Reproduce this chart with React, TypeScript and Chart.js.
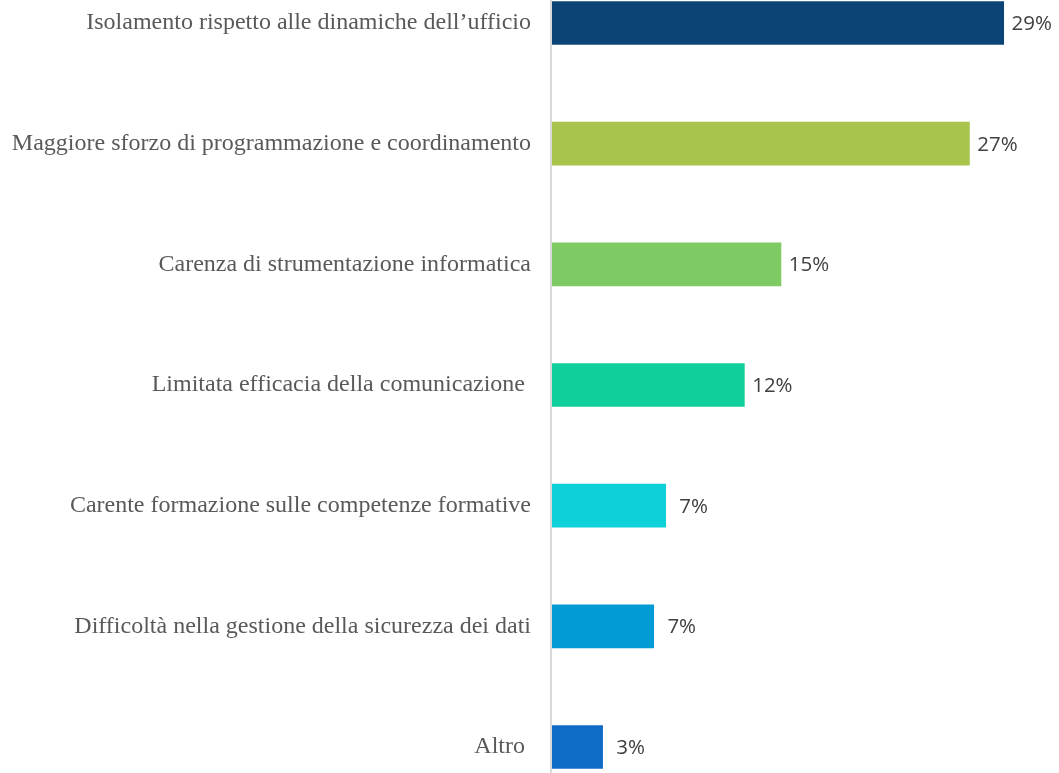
import React, { useEffect, useRef } from "react";
import { Chart, registerables } from "chart.js";

Chart.register(...registerables);

const categories = [
  "Isolamento rispetto alle dinamiche dell\u2019ufficio",
  "Maggiore sforzo di programmazione e coordinamento",
  "Carenza di strumentazione informatica",
  "Limitata efficacia della comunicazione ",
  "Carente formazione sulle competenze formative",
  "Difficolt\u00e0 nella gestione della sicurezza dei dati",
  "Altro ",
];
const values = [29.0, 26.8, 14.7, 12.35, 7.3, 6.53, 3.25];
const valueLabels = ["29%", "27%", "15%", "12%", "7%", "7%", "3%"];
const colors = ["#0C4477", "#A8C44C", "#7ECB63", "#11CF9A", "#0DD0D8", "#039BD5", "#0F6CC4"];

const X_MAX = 32.55;

const extrasPlugin = {
  id: "extras",
  afterDatasetsDraw(chart: any) {
    const ctx = chart.ctx;
    const area = chart.chartArea;
    ctx.save();
    ctx.strokeStyle = "#D9D9D9";
    ctx.lineWidth = 2;
    ctx.beginPath();
    ctx.moveTo(area.left - 1, 0);
    ctx.lineTo(area.left - 1, chart.height);
    ctx.stroke();
    const meta = chart.getDatasetMeta(0);
    ctx.fillStyle = "#404040";
    ctx.font = "20.5px 'Open Sans'";
    ctx.textAlign = "center";
    ctx.textBaseline = "middle";
    meta.data.forEach((bar: any, i: number) => {
      ctx.fillText(valueLabels[i], bar.x + 28, bar.y + 1);
    });
    ctx.restore();
  },
};

export default function App() {
  const canvasRef = useRef<HTMLCanvasElement | null>(null);

  useEffect(() => {
    const canvas = canvasRef.current;
    if (!canvas) return;
    const chart = new Chart(canvas, {
      type: "bar",
      data: {
        labels: categories,
        datasets: [
          {
            data: values,
            backgroundColor: colors,
            barThickness: 43,
            clip: false as any,
          },
        ],
      },
      options: {
        indexAxis: "y",
        animation: false,
        responsive: false,
        maintainAspectRatio: false,
        layout: { padding: { top: 23, bottom: 26, left: 0, right: 0 } },
        plugins: {
          legend: { display: false },
          tooltip: { enabled: false },
          title: { display: false },
        },
        scales: {
          x: {
            display: false,
            min: 0,
            max: X_MAX,
          },
          y: {
            offset: false,
            grid: { display: false, drawTicks: false },
            border: { display: false },
            ticks: {
              padding: 21,
              color: "#595959",
              font: { family: "'Liberation Serif', 'Times New Roman', serif", size: 24 },
              autoSkip: false,
            },
            afterFit(scale: any) {
              scale.width = 552;
              scale.paddingTop = 0;
              scale.paddingBottom = 0;
            },
          },
        },
      },
      plugins: [extrasPlugin],
    });
    return () => chart.destroy();
  }, []);

  return (
    <div style={{ position: "absolute", left: 0, top: 0, width: 1059, height: 773, background: "#fff" }}>
      <canvas ref={canvasRef} width={1059} height={773} style={{ display: "block" }} />
    </div>
  );
}
